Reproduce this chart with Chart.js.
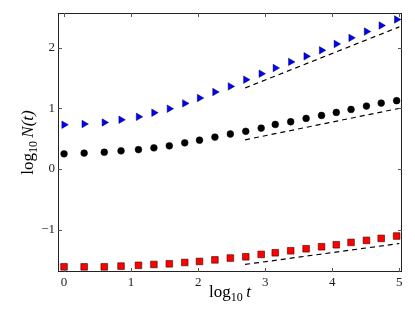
<!DOCTYPE html>
<html>
<head>
<meta charset="utf-8">
<script src="https://cdn.jsdelivr.net/npm/chart.js@4"></script>
<style>
  html, body { margin: 0; padding: 0; background: #fff; }
  #wrap { width: 415px; height: 313px; }
</style>
</head>
<body>
<div id="wrap"><canvas id="c"></canvas></div>
<script>
// log10 t positions of the samples
var logT = [0, 0.30, 0.60, 0.85, 1.11, 1.34, 1.57, 1.80, 2.02, 2.25, 2.48,
            2.71, 2.94, 3.15, 3.38, 3.61, 3.84, 4.06, 4.28, 4.51, 4.73, 4.96];
var blueN = [0.727, 0.74, 0.765, 0.81, 0.858, 0.926, 0.992, 1.08, 1.168, 1.267, 1.36,
             1.471, 1.570, 1.664, 1.764, 1.856, 1.955, 2.06, 2.16, 2.264, 2.364, 2.463];
var blackN = [0.248, 0.26, 0.275, 0.298, 0.318, 0.347, 0.38, 0.43, 0.474, 0.524, 0.575,
              0.62, 0.672, 0.733, 0.777, 0.832, 0.881, 0.931, 0.98, 1.036, 1.085, 1.124];
var redN = [-1.615, -1.615, -1.615, -1.603, -1.59, -1.576, -1.565, -1.543, -1.526, -1.5, -1.47,
            -1.449, -1.41, -1.383, -1.35, -1.317, -1.284, -1.251, -1.212, -1.179, -1.146, -1.107];

// dashed reference lines (start / end)
var fitT = [2.70, 5.0];
var blueFit = [1.334, 2.341];
var blackFit = [0.479, 0.998];
var redFit = [-1.575, -1.230];

var xTicks = [0, 1, 2, 3, 4, 5];
var yTicks = [-1, 0, 1, 2];

function pts(xs, ys) {
  return xs.map(function (x, i) { return { x: x, y: ys[i] }; });
}

var serif = '"Liberation Serif", "DejaVu Serif", serif';

// frame + inward ticks on all four sides, like the old matplotlib look
var frame = {
  id: 'frame',
  afterDraw: function (chart) {
    var ctx = chart.ctx, a = chart.chartArea;
    var xs = chart.scales.x, ys = chart.scales.y;
    ctx.save();
    ctx.strokeStyle = '#222';
    ctx.lineWidth = 1;
    ctx.strokeRect(a.left + 0.5, a.top + 0.5, a.right - a.left - 1, a.bottom - a.top - 1);
    ctx.strokeStyle = '#555';
    ctx.beginPath();
    xTicks.forEach(function (v) {
      var p = Math.round(xs.getPixelForValue(v)) + 0.5;
      ctx.moveTo(p, a.bottom); ctx.lineTo(p, a.bottom - 4);
      ctx.moveTo(p, a.top); ctx.lineTo(p, a.top + 4);
    });
    yTicks.forEach(function (v) {
      var p = Math.round(ys.getPixelForValue(v)) + 0.5;
      ctx.moveTo(a.left, p); ctx.lineTo(a.left + 4, p);
      ctx.moveTo(a.right, p); ctx.lineTo(a.right - 4, p);
    });
    ctx.stroke();
    ctx.restore();
  }
};

// axis titles with subscript and italic parts
function drawLabel(ctx, parts, cx, baseY) {
  var total = 0;
  parts.forEach(function (p) { ctx.font = p.font; p.w = ctx.measureText(p.text).width; total += p.w; });
  var x = cx - total / 2;
  parts.forEach(function (p) {
    ctx.font = p.font;
    ctx.fillText(p.text, x, baseY + (p.dy || 0));
    x += p.w;
  });
}

var titles = {
  id: 'titles',
  afterDraw: function (chart) {
    var ctx = chart.ctx, a = chart.chartArea;
    ctx.save();
    ctx.fillStyle = '#000';
    ctx.textBaseline = 'alphabetic';
    drawLabel(ctx, [
      { text: 'log', font: '17px ' + serif },
      { text: '10', font: '12px ' + serif, dy: 4 },
      { text: '\u2009t', font: 'italic 17px ' + serif }
    ], (a.left + a.right) / 2, 297);
    ctx.translate(33, (a.top + a.bottom) / 2);
    ctx.rotate(-Math.PI / 2);
    drawLabel(ctx, [
      { text: 'log', font: '17px ' + serif },
      { text: '10', font: '12px ' + serif, dy: 4 },
      { text: '\u2009N(t)', font: 'italic 17px ' + serif }
    ], 0, 0);
    ctx.restore();
  }
};

new Chart(document.getElementById('c'), {
  type: 'scatter',
  data: {
    datasets: [
      { data: pts(fitT, blueFit), type: 'line', showLine: true, pointRadius: 0,
        borderColor: '#000', borderWidth: 1.2, borderDash: [5, 4], fill: false },
      { data: pts(fitT, blackFit), type: 'line', showLine: true, pointRadius: 0,
        borderColor: '#000', borderWidth: 1.2, borderDash: [5, 4], fill: false },
      { data: pts(fitT, redFit), type: 'line', showLine: true, pointRadius: 0,
        borderColor: '#000', borderWidth: 1.2, borderDash: [5, 4], fill: false },
      { data: pts(logT, blueN), pointStyle: 'triangle', rotation: 90, pointRadius: 4.3,
        backgroundColor: '#0000ff', borderColor: '#000040', borderWidth: 0.5 },
      { data: pts(logT, blackN), pointStyle: 'circle', pointRadius: 3.4,
        backgroundColor: '#000', borderColor: '#000', borderWidth: 0.5 },
      { data: pts(logT, redN), pointStyle: 'rect', pointRadius: 4.7,
        backgroundColor: '#ff0000', borderColor: '#400000', borderWidth: 0.6 }
    ]
  },
  options: {
    responsive: true,
    maintainAspectRatio: false,
    animation: false,
    layout: { padding: { top: 13, right: 13, left: 0, bottom: 0 } },
    plugins: { legend: { display: false }, tooltip: { enabled: false } },
    scales: {
      x: {
        type: 'linear', min: -0.09, max: 5.04,
        afterBuildTicks: function (s) { s.ticks = xTicks.map(function (v) { return { value: v }; }); },
        afterFit: function (s) { s.height = 41; },
        grid: { display: false, drawTicks: false },
        border: { display: false },
        ticks: { padding: 3, color: '#222', font: { family: serif, size: 13 }, maxRotation: 0 }
      },
      y: {
        type: 'linear', min: -1.70, max: 2.57,
        afterBuildTicks: function (s) { s.ticks = yTicks.map(function (v) { return { value: v }; }); },
        afterFit: function (s) { s.width = 58; },
        grid: { display: false, drawTicks: false },
        border: { display: false },
        ticks: { padding: 3, color: '#222', font: { family: serif, size: 13 },
          callback: function (v) { return String(v).replace('-', '\u2212'); } }
      }
    }
  },
  plugins: [frame, titles]
});
</script>
</body>
</html>
